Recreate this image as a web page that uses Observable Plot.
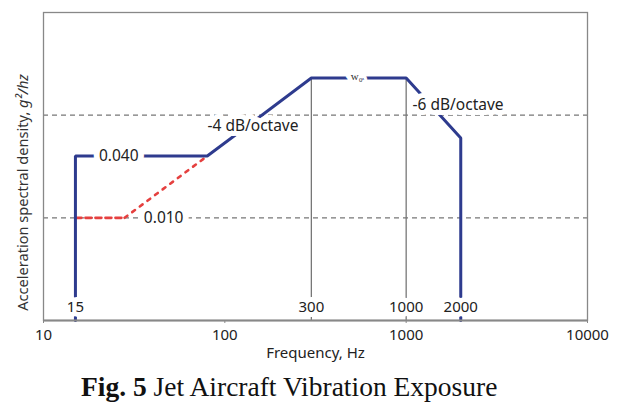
<!DOCTYPE html>
<html>
<head>
<meta charset="utf-8">
<script src="https://cdn.jsdelivr.net/npm/d3@7"></script>
<script src="https://cdn.jsdelivr.net/npm/@observablehq/plot@0.6"></script>
<style>
  html, body { margin: 0; padding: 0; background: #fff; }
  #chart svg { display: block; }
  #caption { font-family: "Liberation Serif", serif; font-size: 27.5px; line-height: 30px; color: #111; padding-left: 81px; white-space: nowrap; }
</style>
</head>
<body>
<div id="chart"></div>
<div id="caption"></div>
<script>
// ---- data ----
const freqTicks = [10, 100, 1000, 10000];
const profileFreq = [15, 15, 80, 300, 1000, 2000, 2000];
const profilePsd  = [0.001, 0.04, 0.04, 0.23, 0.23, 0.06, 0.001];
const altFlatFreq  = [15, 28];
const altFlatPsd   = [0.01, 0.01];
const altSlopeFreq = [28, 80];
const altSlopePsd  = [0.01, 0.04];
const refLevels = [0.1, 0.01];
const cornerFreqs = [300, 1000];
const w0Level = 0.23;
const markedFreqs  = [15, 300, 1000, 2000];
const markedLabels = ["15", "300", "1000", "2000"];
const levelLabelText = ["0.040", "0.010"];
const levelLabelFreq = [26, 46];
const levelLabelPsd  = [0.04, 0.01];
const slopeLabelText = ["-4 dB/octave", "-6 dB/octave"];
const slopeLabelFreq = [143, 1933];
const slopeLabelPsd  = [0.079, 0.126];
const w0Text = "w₀";
const w0Freq = 533;
const xLabel = "Frequency, Hz";
const yLabelMain = "Acceleration spectral density, ";
const yLabelUnit = "g²/hz";
const captionBold = "Fig. 5";
const captionRest = " Jet Aircraft Vibration Exposure";

// ---- tables ----
const profile = profileFreq.map((f, i) => ({f, p: profilePsd[i]}));
const altFlat = altFlatFreq.map((f, i) => ({f, p: altFlatPsd[i]}));
const altSlope = altSlopeFreq.map((f, i) => ({f, p: altSlopePsd[i]}));
const levelLabels = levelLabelText.map((t, i) => ({t, f: levelLabelFreq[i], p: levelLabelPsd[i]}));
const slopeLabels = slopeLabelText.map((t, i) => ({t, f: slopeLabelFreq[i], p: slopeLabelPsd[i]}));
const marked = markedFreqs.map((f, i) => ({f, t: markedLabels[i]}));

const BLUE = "#2e3b8e", RED = "#e5403f", GRAY = "#777";
const halo = {stroke: "white", paintOrder: "stroke", strokeLinejoin: "round"};

const chart = Plot.plot({
  width: 627,
  height: 372,
  marginLeft: 43,
  marginRight: 40,
  marginTop: 12,
  marginBottom: 52,
  style: {fontFamily: "'Noto Sans', sans-serif", background: "white", color: "#222"},
  x: {type: "log", domain: [10, 10000]},
  y: {type: "log", domain: [0.001, 1], axis: null},
  marks: [
    Plot.ruleY(refLevels, {stroke: GRAY, strokeWidth: 1.3, strokeDasharray: "5,4"}),
    Plot.ruleX(cornerFreqs, {y1: 0.001, y2: w0Level, stroke: GRAY, strokeWidth: 1.3}),
    Plot.line(altFlat, {x: "f", y: "p", stroke: RED, strokeWidth: 2.6, strokeDasharray: "6,4"}),
    Plot.line(altSlope, {x: "f", y: "p", stroke: RED, strokeWidth: 2.6, strokeDasharray: "3.5,6"}),
    Plot.line(profile, {x: "f", y: "p", stroke: BLUE, strokeWidth: 3, strokeLinejoin: "miter"}),
    Plot.text(levelLabels, {x: "f", y: "p", text: "t", fontSize: 15.5, fill: "#222", ...halo, strokeWidth: 12}),
    Plot.text(slopeLabels, {x: "f", y: "p", text: "t", fontSize: 15.5, fill: "#222", ...halo, strokeWidth: 10}),
    Plot.text([w0Text], {x: () => w0Freq, y: () => w0Level, text: d => d, dy: -2, fontSize: 11, fontFamily: "'Liberation Serif', serif", fill: "#333", ...halo, strokeWidth: 10}),
    Plot.text(marked, {x: "f", text: "t", frameAnchor: "bottom", lineAnchor: "middle", dy: -13, fontSize: 15, fill: "#222", ...halo, strokeWidth: 10}),
    Plot.ruleY([0.001], {stroke: "#888", strokeWidth: 2}),
    Plot.frame({stroke: "#888", strokeWidth: 1.3}),
    Plot.axisX({ticks: freqTicks, tickFormat: d => String(d), tickSize: 3, tickPadding: 6, fontSize: 15,
      stroke: "#888", label: xLabel, labelAnchor: "center", labelArrow: "none", labelOffset: 37}),
    Plot.text([yLabelMain], {frameAnchor: "left", textAnchor: "middle", lineAnchor: "middle", text: d => d, dx: -20, dy: 26, rotate: -90, fontSize: 14.6, fill: "#333"})
  ]
});
document.getElementById("chart").appendChild(chart);

// italic unit in the y label
const ns = "http://www.w3.org/2000/svg";
for (const el of chart.querySelectorAll("text")) {
  if (el.textContent.startsWith("Acceleration")) {
    el.setAttribute("xml:space", "preserve");
    el.style.whiteSpace = "pre";
    el.textContent = "";
    const t1 = document.createElementNS(ns, "tspan");
    t1.textContent = yLabelMain;
    const t2 = document.createElementNS(ns, "tspan");
    t2.setAttribute("font-style", "italic");
    t2.textContent = yLabelUnit;
    el.appendChild(t1);
    el.appendChild(t2);
    break;
  }
}

const cap = document.getElementById("caption");
const b = document.createElement("b");
b.textContent = captionBold;
cap.appendChild(b);
cap.appendChild(document.createTextNode(captionRest));
</script>
</body>
</html>
